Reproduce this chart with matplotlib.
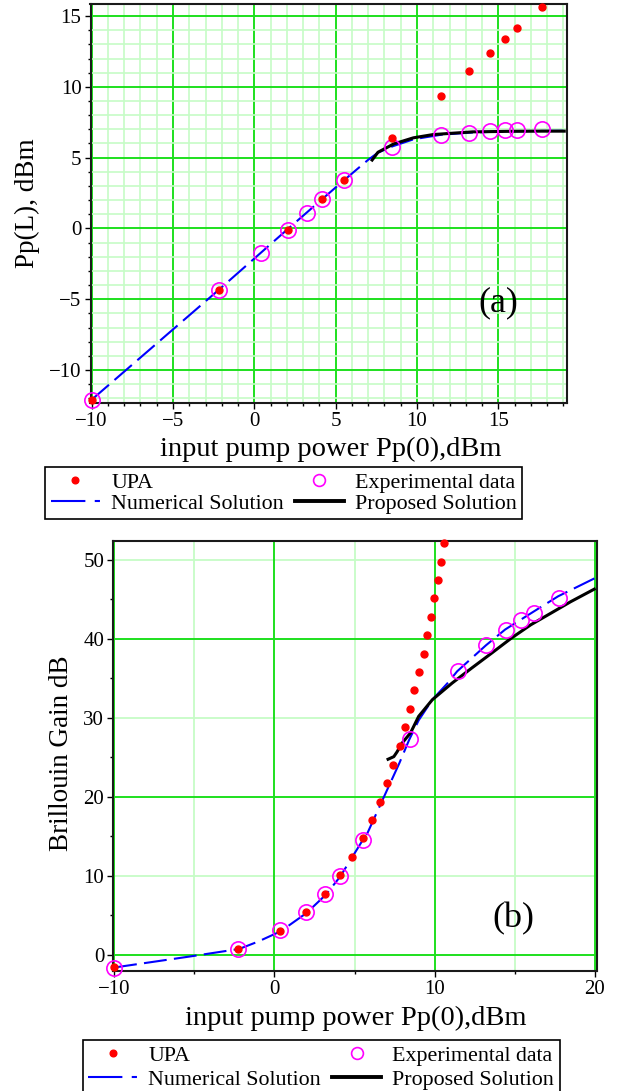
import numpy as np
import matplotlib
matplotlib.use("Agg")
import matplotlib.pyplot as plt
from matplotlib.lines import Line2D
from matplotlib.ticker import MultipleLocator

plt.rcParams['font.family'] = ['Liberation Serif', 'DejaVu Serif']
plt.rcParams['axes.unicode_minus'] = True

# ---- data, panel (a): output pump power ----
a_upa_x = [17.7, 16.17, 15.4, 14.46, 13.2, 11.45, 8.47, 5.54, 4.14, 2.06, -2.2, -9.95]
a_upa_y = [15.66, 14.15, 13.35, 12.38, 11.12, 9.37, 6.42, 3.42, 2.07, -0.09, -4.37, -12.11]

a_exp_x = [17.7, 16.17, 15.4, 14.46, 13.2, 11.45, 8.47, 5.54, 4.14, 3.22, 2.06, 0.44, -2.2, -9.95]
a_exp_y = [7.01, 6.96, 6.94, 6.87, 6.77, 6.63, 5.76, 3.42, 2.07, 1.08, -0.09, -1.74, -4.32, -12.11]

a_num_x = [-10.0, -2.2, 2.0, 4.15, 5.56, 7.0, 7.6, 8.5, 9.8, 11.5, 13.2, 15.0, 17.0, 19.2]
a_num_y = [-12.1, -4.35, -0.1, 2.05, 3.45, 4.85, 5.35, 5.8, 6.3, 6.62, 6.76, 6.84, 6.88, 6.9]

a_prop_x = [7.24, 7.6, 8.57, 9.78, 10.99, 13.41, 15.84, 17.7, 19.05]
a_prop_y = [4.83, 5.38, 5.97, 6.4, 6.63, 6.82, 6.86, 6.87, 6.87]

# ---- data, panel (b): Brillouin gain ----
b_upa_x = [10.55, 10.37, 10.18, 9.98, 9.76, 9.53, 9.31, 9.01, 8.74, 8.45, 8.15, 7.81,
           7.41, 7.02, 6.58, 6.08, 5.52, 4.85, 4.11, 3.18, 2.0, 0.34, -2.29, -10.0]
b_upa_y = [52.1, 49.8, 47.5, 45.2, 42.8, 40.5, 38.1, 35.8, 33.5, 31.1, 28.8, 26.5,
           24.1, 21.7, 19.4, 17.1, 14.8, 12.4, 10.1, 7.76, 5.4, 3.08, 0.76, -1.56]

b_exp_x = [17.73, 16.18, 15.39, 14.43, 13.23, 11.43, 8.45, 5.52, 4.11, 3.15, 2.0, 0.34, -2.29, -10.0]
b_exp_y = [45.2, 43.3, 42.4, 41.1, 39.2, 36.0, 27.3, 14.6, 10.0, 7.7, 5.4, 3.1, 0.8, -1.6]

b_num_x = [-10.0, -5.1, -2.2, -1.0, 0.4, 2.0, 3.2, 4.1, 5.5, 5.8, 6.9, 7.8, 8.4, 9.0,
           9.85, 10.8, 11.4, 13.2, 14.4, 16.2, 17.7, 20.1]
b_num_y = [-1.6, -0.15, 0.75, 1.7, 3.0, 5.3, 7.6, 9.9, 14.5, 15.4, 20.3, 24.3, 27.2, 29.7,
           32.3, 34.4, 35.9, 39.2, 41.2, 43.5, 45.4, 47.8]

b_prop_x = [7.09, 7.45, 7.65, 7.96, 8.49, 9.0, 9.85, 11.08, 12.3, 13.55, 14.78, 16.0,
            17.24, 18.47, 19.95]
b_prop_y = [24.77, 25.1, 25.7, 26.8, 28.1, 30.2, 32.3, 34.4, 36.3, 38.2, 40.1, 41.8,
            43.25, 44.7, 46.3]

labels = ["UPA", "Experimental data", "Numerical Solution", "Proposed Solution"]
xlabel = "input pump power Pp(0),dBm"

W, H = 617, 1091
fig = plt.figure(figsize=(W / 100, H / 100), dpi=100)

BRIGHT = '#1ee01e'
LIGHT = '#c6fcc6'
BLUE = '#0000ff'
MAGENTA = '#ff00ff'
RED = '#ff0000'


def px_axes(left, top, right, bottom):
    return fig.add_axes([left / W, 1 - bottom / H, (right - left) / W, (bottom - top) / H])


def draw_series(ax, upa, exp, num, prop):
    ax.plot(num[0], num[1], color=BLUE, lw=1.5, linestyle=(0, (11, 3.5)), zorder=3)
    ax.plot(prop[0], prop[1], color='black', lw=2.2, zorder=4)
    ax.plot(exp[0], exp[1], 'o', mfc='none', mec=MAGENTA, ms=11, mew=1.2,
            zorder=5, clip_on=False)
    ax.plot(upa[0], upa[1], 'o', color=RED, ms=5, zorder=6, clip_on=False)


def style_axes(ax):
    ax.set_axisbelow(True)
    for s in ax.spines.values():
        s.set_color('#1a1a1a')
        s.set_linewidth(1.5)
    ax.tick_params(which='both', direction='out', labelsize=15, pad=2,
                   top=False, right=False, color='black')
    ax.tick_params(which='major', length=4.5, width=1)
    ax.tick_params(which='minor', length=2.5, width=1)


def add_legend(ax, x, y, spacing):
    h_upa = Line2D([], [], ls='none', marker='o', color=RED, ms=4.8)
    h_exp = Line2D([], [], ls='none', marker='o', mfc='none', mec=MAGENTA, ms=8.5, mew=1.2)
    h_num = Line2D([], [], color=BLUE, lw=1.5, linestyle=(0, (16.5, 4.5, 2.5, 10)))
    h_prop = Line2D([], [], color='black', lw=2.8)
    leg = ax.legend([h_upa, h_num, h_exp, h_prop],
                    [labels[0], labels[2], labels[1], labels[3]],
                    ncol=2, loc='upper left', bbox_to_anchor=(x / W, 1 - y / H),
                    bbox_transform=fig.transFigure, fontsize=15.8, frameon=True,
                    fancybox=False, framealpha=1, edgecolor='black',
                    handlelength=2.25, handletextpad=0.5, columnspacing=0.5,
                    labelspacing=spacing, borderpad=0.25, borderaxespad=0)
    leg.get_frame().set_linewidth(1.2)
    return leg


# ---------------- panel (a) ----------------
ax1 = px_axes(90.5, 4, 566.7, 403.3)
draw_series(ax1, (a_upa_x, a_upa_y), (a_exp_x, a_exp_y),
            (a_num_x, a_num_y), (a_prop_x, a_prop_y))
ax1.set_xlim(-10.07, 19.2)
ax1.set_ylim(-12.35, 15.85)
ax1.xaxis.set_major_locator(MultipleLocator(5))
ax1.xaxis.set_minor_locator(MultipleLocator(1))
ax1.yaxis.set_major_locator(MultipleLocator(5))
ax1.yaxis.set_minor_locator(MultipleLocator(1))
ax1.grid(which='minor', color=LIGHT, lw=1.2)
ax1.grid(which='major', color=BRIGHT, lw=1.4)
style_axes(ax1)
ax1.text(15.0, -5.25, "(a)", fontsize=26, ha='center', va='center')
fig.text(331 / W, 1 - 455.7 / H, xlabel, fontsize=20.5, ha='center', va='baseline')
fig.text(27 / W, 1 - 203 / H, "Pp(L), dBm", fontsize=19.5, rotation=90,
         ha='center', va='center')
add_legend(ax1, 45.3, 466.7, 0.05)

# ---------------- panel (b) ----------------
ax2 = px_axes(113.3, 541, 597.4, 970.7)
draw_series(ax2, (b_upa_x, b_upa_y), (b_exp_x, b_exp_y),
            (b_num_x, b_num_y), (b_prop_x, b_prop_y))
ax2.set_xlim(-10.05, 20.15)
ax2.set_ylim(-2.0, 52.4)
ax2.xaxis.set_major_locator(MultipleLocator(10))
ax2.xaxis.set_minor_locator(MultipleLocator(5))
ax2.yaxis.set_major_locator(MultipleLocator(10))
ax2.yaxis.set_minor_locator(MultipleLocator(5))
for v in (-5, 5, 15):
    ax2.axvline(v, color=LIGHT, lw=1.3, zorder=0)
for v in (-10, 0, 10, 20):
    ax2.axvline(v, color=BRIGHT, lw=1.4, zorder=0.5)
for v in (10, 30, 50):
    ax2.axhline(v, color=LIGHT, lw=1.3, zorder=0)
for v in (0, 20, 40):
    ax2.axhline(v, color=BRIGHT, lw=1.4, zorder=0.5)
style_axes(ax2)
ax2.text(14.9, 4.6, "(b)", fontsize=26, ha='center', va='center')
fig.text(356 / W, 1 - 1025 / H, xlabel, fontsize=20.5, ha='center', va='baseline')
fig.text(62 / W, 1 - 753 / H, "Brillouin Gain dB", fontsize=19.5, rotation=90,
         ha='center', va='center')
add_legend(ax2, 82.6, 1040, 0.17)

fig.savefig("out.png", dpi=100)
